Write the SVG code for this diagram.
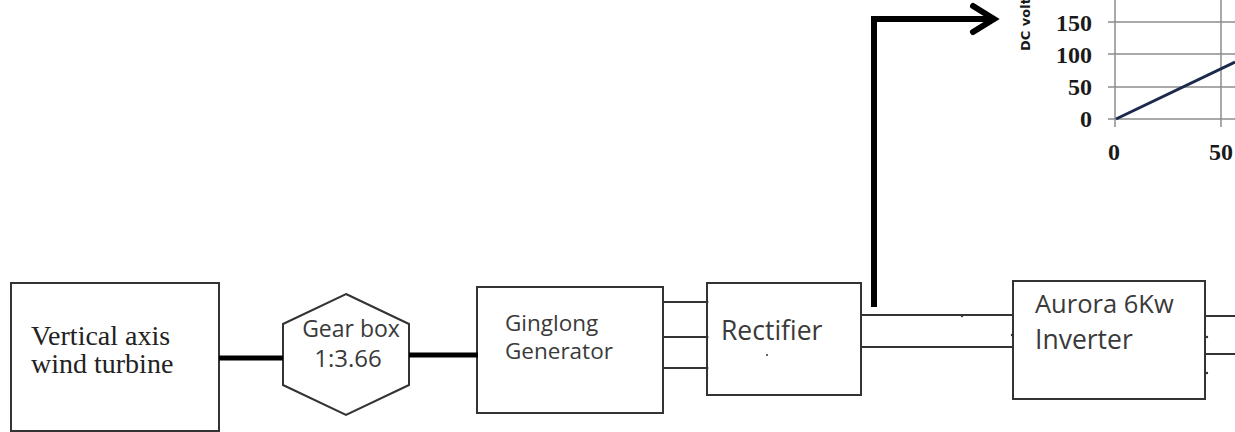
<svg xmlns="http://www.w3.org/2000/svg" width="1235" height="432" viewBox="0 0 1235 432">
  <style>
    .box { fill: #ffffff; stroke: #333333; stroke-width: 2; }
    .wire { fill: none; stroke: #333333; stroke-width: 2; }
    .shaft { fill: none; stroke: #000000; stroke-width: 5; }
    .lbl { font-family: "Open Sans", "DejaVu Sans", sans-serif; fill: #3a3a3a; }
    .serif { font-family: "Liberation Serif", "Times New Roman", serif; fill: #222222; }
    .grid { fill: none; stroke: #8c8c8c; stroke-width: 1.5; }
    .num { font-family: "Liberation Serif", "Times New Roman", serif; font-weight: bold; fill: #1a1a1a; }
    .dot { fill: #333333; }
  </style>
  <defs>
    <marker id="chevron" viewBox="0 0 12 12" refX="10" refY="6" markerWidth="12" markerHeight="12" markerUnits="userSpaceOnUse" orient="auto" overflow="visible">
      <path d="M -11 -7 L 10 6 L -11 19" fill="none" stroke="#000000" stroke-width="6" stroke-linecap="round" stroke-linejoin="miter"/>
    </marker>
  </defs>
  <rect width="1235" height="432" fill="#ffffff"/>

  <!-- DC voltage chart (partial) -->
  <g id="chart">
    <g class="grid">
      <line x1="1108" y1="22" x2="1235" y2="22"/>
      <line x1="1108" y1="54" x2="1235" y2="54"/>
      <line x1="1108" y1="87" x2="1235" y2="87"/>
      <line x1="1108" y1="119" x2="1235" y2="119"/>
      <line x1="1115" y1="0" x2="1115" y2="127"/>
      <line x1="1221" y1="0" x2="1221" y2="127"/>
    </g>
    <line x1="1116" y1="119" x2="1235" y2="62" stroke="#1b2a4c" stroke-width="3"/>
    <g class="num" text-anchor="end" font-size="24">
      <text x="1092" y="31">150</text>
      <text x="1092" y="63">100</text>
      <text x="1092" y="95">50</text>
      <text x="1092" y="127">0</text>
    </g>
    <g class="num" text-anchor="middle" font-size="24">
      <text x="1114" y="160">0</text>
      <text x="1221" y="160">50</text>
    </g>
    <text transform="translate(1030,51) rotate(-90)" font-family="DejaVu Sans, sans-serif" font-weight="bold" font-size="13" fill="#1a1a1a">DC volt</text>
  </g>

  <!-- Vertical axis wind turbine -->
  <g id="turbine">
    <rect class="box" x="11" y="283" width="208" height="148"/>
    <text class="serif" x="31" y="345" font-size="28">Vertical axis</text>
    <text class="serif" x="31" y="373" font-size="28">wind turbine</text>
  </g>

  <!-- Gear box -->
  <g id="gearbox">
    <polygon class="box" points="346,294 409,324 409,385 346,415 283,385 283,324"/>
    <text class="lbl" x="351" y="337" text-anchor="middle" font-size="23">Gear box</text>
    <text class="lbl" x="348" y="367" text-anchor="middle" font-size="24">1:3.66</text>
  </g>

  <!-- Generator -->
  <g id="generator">
    <rect class="box" x="477" y="287" width="186" height="126"/>
    <text class="lbl" x="505" y="331" font-size="22.5">Ginglong</text>
    <text class="lbl" x="505" y="359" font-size="22.5">Generator</text>
  </g>

  <!-- Rectifier -->
  <g id="rectifier">
    <rect class="box" x="707" y="283" width="154" height="112"/>
    <text class="lbl" x="721" y="340" font-size="26.5">Rectifier</text>
    <circle class="dot" cx="767" cy="355" r="1"/>
  </g>

  <!-- Inverter -->
  <g id="inverter">
    <rect class="box" x="1013" y="281" width="192" height="118"/>
    <text class="lbl" x="1035" y="313" font-size="25.5">Aurora 6Kw</text>
    <text class="lbl" x="1035" y="349" font-size="26.5">Inverter</text>
  </g>

  <!-- Connectors -->
  <g id="connectors">
    <line class="shaft" x1="219" y1="358" x2="283" y2="358"/>
    <line class="shaft" x1="409" y1="355" x2="478" y2="355"/>
    <line class="wire" x1="663" y1="302" x2="707" y2="302"/>
    <line class="wire" x1="663" y1="337" x2="707" y2="337"/>
    <line class="wire" x1="663" y1="368" x2="707" y2="368"/>
    <line class="wire" x1="861" y1="315" x2="1013" y2="315"/>
    <line class="wire" x1="861" y1="347" x2="1013" y2="347"/>
    <line class="wire" x1="1205" y1="316" x2="1235" y2="316"/>
    <line class="wire" x1="1205" y1="354" x2="1235" y2="354"/>
    <g class="dot">
      <circle cx="707" cy="302" r="1.5"/>
      <circle cx="707" cy="337" r="1.5"/>
      <circle cx="707" cy="368" r="1.5"/>
      <circle cx="962" cy="316" r="1.2"/>
      <circle cx="1012" cy="335" r="1.2"/>
      <circle cx="1207" cy="337" r="1.2"/>
      <circle cx="1207" cy="373" r="1.2"/>
    </g>
    <polyline points="874,307 874,19 994,19" fill="none" stroke="#000000" stroke-width="6" stroke-linejoin="miter" marker-end="url(#chevron)"/>
  </g>
</svg>
